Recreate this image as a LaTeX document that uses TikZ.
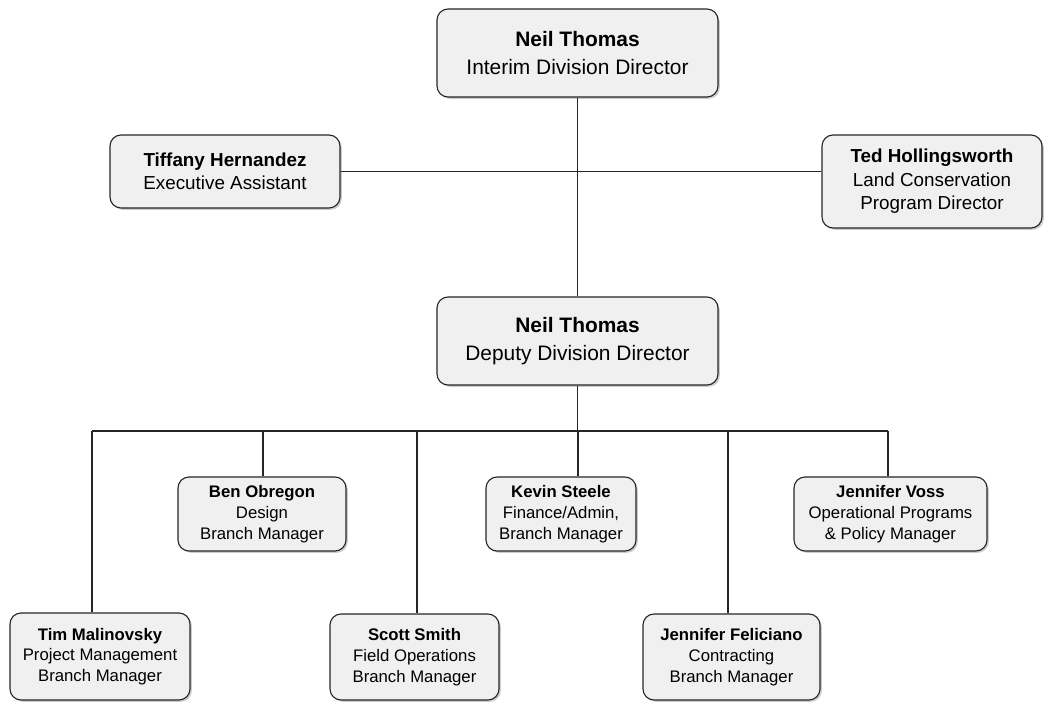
\documentclass[tikz,border=0pt]{standalone}
\usepackage{fontspec}
\setmainfont{Liberation Sans}
\usetikzlibrary{shadows}

\tikzset{
  card/.style={draw=black!85, line width=1.1bp, rounded corners=11bp, fill=black!6,
    align=center, inner sep=0pt,
    drop shadow={shadow xshift=1.8bp, shadow yshift=-1.8bp, opacity=0.4}},
  bigcard/.style={card, font=\fontsize{21}{28}\selectfont},
  midcard/.style={card, font=\fontsize{18.9}{23.5}\selectfont},
  smallcard/.style={card, font=\fontsize{16.8}{20.8}\selectfont},
  wire/.style={line width=1.1bp, black!85},
}

\begin{document}
\begin{tikzpicture}[line join=bevel]
\useasboundingbox (0bp,0bp) rectangle (1048bp,707bp);
%%
\node (top) at (577.5bp,654bp) [bigcard, minimum width=281bp, minimum height=88bp] {\textbf{Neil Thomas}\\Interim Division Director};
  \node (tiff) at (225bp,535.5bp) [midcard, minimum width=230bp, minimum height=73bp] {\textbf{Tiffany Hernandez}\\Executive Assistant};
  \node (ted) at (932bp,525.5bp) [midcard, minimum width=220bp, minimum height=93bp] {\textbf{Ted Hollingsworth}\\Land Conservation\\Program Director};
  \node (dep) at (577.5bp,366bp) [bigcard, minimum width=281bp, minimum height=88bp] {\textbf{Neil Thomas}\\Deputy Division Director};
%
  \node (ben) at (262bp,193bp) [smallcard, minimum width=168bp, minimum height=74bp] {\textbf{Ben Obregon}\\Design\\Branch Manager};
  \node (kevin) at (561bp,193bp) [smallcard, minimum width=150bp, minimum height=74bp] {\textbf{Kevin Steele}\\Finance/Admin,\\Branch Manager};
  \node (voss) at (890.5bp,193bp) [smallcard, minimum width=193bp, minimum height=74bp] {\textbf{Jennifer Voss}\\Operational Programs\\\& Policy Manager};
  \node (tim) at (100bp,50.5bp) [smallcard, minimum width=180bp, minimum height=87bp] {\textbf{Tim Malinovsky}\\Project Management\\Branch Manager};
  \node (scott) at (414.5bp,50bp) [smallcard, minimum width=169bp, minimum height=86bp] {\textbf{Scott Smith}\\Field Operations\\Branch Manager};
  \node (fel) at (731.5bp,50bp) [smallcard, minimum width=177bp, minimum height=86bp] {\textbf{Jennifer Feliciano}\\Contracting\\Branch Manager};
%
  \coordinate (b_tim) at (92bp,276bp);
  \coordinate (b_ben) at (263bp,276bp);
  \coordinate (b_scott) at (417bp,276bp);
  \coordinate (b_kevin) at (578bp,276bp);
  \coordinate (b_fel) at (728bp,276bp);
  \coordinate (b_voss) at (888bp,276bp);
%
  \draw [wire] (top) -- (dep);
  \draw [wire] (tiff.east) -- (tiff.east -| ted.west);
  \draw [wire] (dep.south) -- (dep.south |- b_kevin);
  \draw [wire] (b_tim) -- (b_voss);
  \foreach \b/\n in {b_tim/tim, b_ben/ben, b_scott/scott, b_kevin/kevin, b_fel/fel, b_voss/voss}
    \draw [wire] (\b) -- (\b |- \n.north);
%
\end{tikzpicture}
\end{document}
